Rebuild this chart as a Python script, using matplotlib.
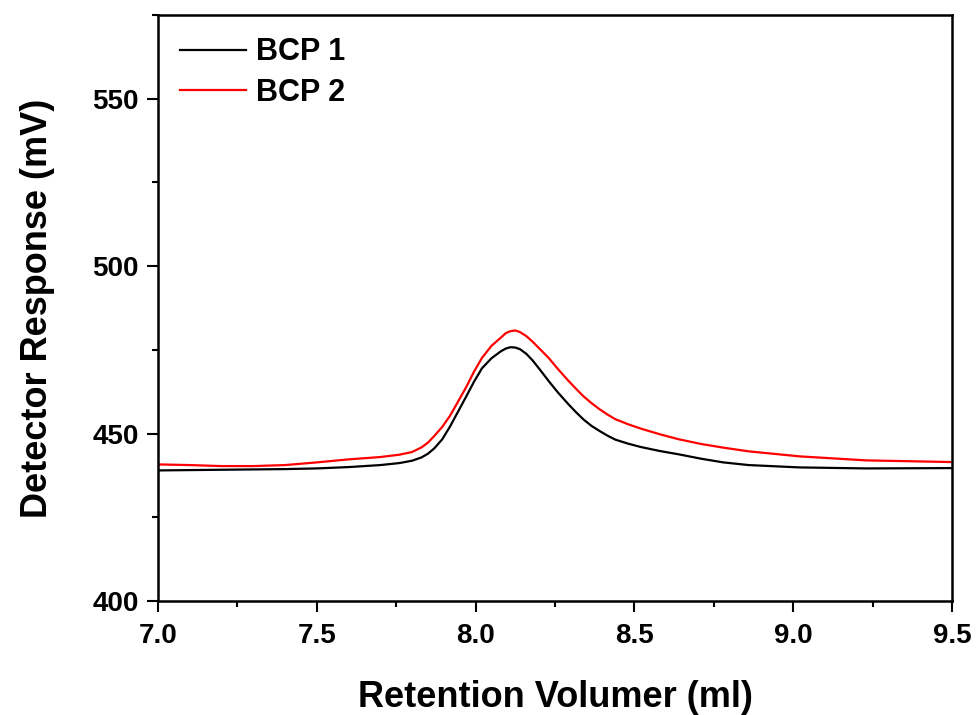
import matplotlib
matplotlib.use("Agg")
import matplotlib.pyplot as pyplot
from matplotlib.ticker import MultipleLocator

# retention volume (ml) and detector response (mV)
volume = [7.00, 7.10, 7.20, 7.30, 7.40, 7.50, 7.60, 7.70, 7.76, 7.80, 7.83,
          7.85, 7.87, 7.895, 7.92, 7.945, 7.97, 7.995, 8.02, 8.05, 8.08,
          8.095, 8.11, 8.125, 8.14, 8.16, 8.18, 8.205, 8.23, 8.26, 8.29,
          8.315, 8.34, 8.365, 8.39, 8.415, 8.44, 8.48, 8.52, 8.58, 8.64,
          8.71, 8.78, 8.86, 9.02, 9.23, 9.50]
bcp1 = [439.0, 439.1, 439.2, 439.3, 439.4, 439.6, 440.0, 440.6, 441.2, 441.9, 442.9,
        444.0, 445.6, 448.3, 452.2, 456.6, 461.0, 465.5, 469.5, 472.5, 474.6,
        475.4, 475.8, 475.7, 475.2, 473.8, 471.8, 468.8, 465.7, 462.2, 459.0,
        456.5, 454.2, 452.3, 450.8, 449.4, 448.2, 447.0, 446.0, 444.8, 443.8,
        442.5, 441.4, 440.6, 439.9, 439.6, 439.7]
bcp2 = [440.8, 440.6, 440.3, 440.3, 440.6, 441.4, 442.3, 443.0, 443.7, 444.5, 445.9,
        447.3, 449.3, 452.0, 455.4, 459.6, 463.8, 468.5, 472.6, 476.2, 478.7,
        480.0, 480.6, 480.8, 480.3, 479.1, 477.4, 475.0, 472.6, 469.2, 466.0,
        463.5, 461.1, 459.1, 457.3, 455.7, 454.3, 452.8, 451.5, 449.8, 448.3,
        446.9, 445.8, 444.7, 443.2, 442.0, 441.5]
labels = ["BCP 1", "BCP 2"]
colors = ["black", "red"]

pyplot.rcParams["font.family"] = ["Liberation Sans", "DejaVu Sans"]
pyplot.rcParams["font.weight"] = "bold"

fig = pyplot.figure(figsize=(9.79, 7.15), dpi=100)
axis = fig.add_axes([0.1614, 0.1594, 0.811, 0.8196])

for series, label, color in zip([bcp1, bcp2], labels, colors):
    axis.plot(volume, series, color=color, linewidth=1.6, label=label)

axis.set_xlim(7.0, 9.5)
axis.set_ylim(400, 575)
axis.xaxis.set_minor_locator(MultipleLocator(0.25))
axis.yaxis.set_minor_locator(MultipleLocator(25))
axis.set_xticks([7.0, 7.5, 8.0, 8.5, 9.0, 9.5])
axis.set_xticklabels(["7.0", "7.5", "8.0", "8.5", "9.0", "9.5"])
axis.set_yticks([400, 450, 500, 550])

axis.tick_params(which="both", direction="out", width=1.5, labelsize=20,
                 top=False, right=False)
axis.tick_params(which="major", length=8)
axis.tick_params(which="minor", length=4.3)
axis.tick_params(axis="y", pad=6)
axis.tick_params(axis="x", pad=8)
for spine in axis.spines.values():
    spine.set_linewidth(1.8)

axis.set_xlabel("Retention Volumer (ml)", fontsize=26, fontweight="bold", labelpad=22)
axis.set_ylabel("Detector Response (mV)", fontsize=26, fontweight="bold", labelpad=27)

axis.legend(loc="upper left", bbox_to_anchor=(0.028, 0.962), frameon=False,
            fontsize=22, handlelength=2.15, handletextpad=0.33,
            labelspacing=0.35, borderpad=0, borderaxespad=0)

fig.savefig("out.png", dpi=100)
